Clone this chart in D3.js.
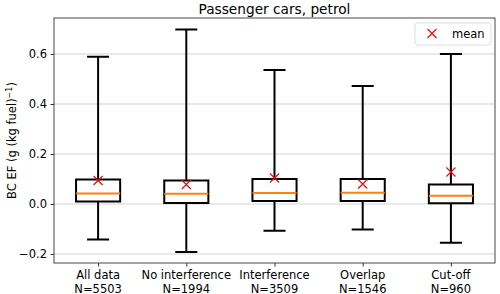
<!DOCTYPE html>
<html>
<head>
<meta charset="utf-8">
<script src="https://cdn.jsdelivr.net/npm/d3@7"></script>
<style>
  body { margin: 0; background: #fff; }
  text { font-family: "DejaVu Sans", sans-serif; fill: #000; }
</style>
</head>
<body>
<svg id="chart" width="500" height="294"></svg>
<script>
// box statistics
const groups = ["All data", "No interference", "Interference", "Overlap", "Cut-off"];
const counts = [5503, 1994, 3509, 1546, 960];
const whiskerLow = [-0.142, -0.192, -0.107, -0.102, -0.155];
const q1 = [0.010, 0.004, 0.012, 0.012, 0.003];
const median = [0.042, 0.041, 0.044, 0.045, 0.033];
const q3 = [0.098, 0.094, 0.100, 0.100, 0.078];
const whiskerHigh = [0.589, 0.698, 0.536, 0.472, 0.600];
const means = [0.094, 0.078, 0.104, 0.080, 0.128];
const yTicks = [-0.2, 0.0, 0.2, 0.4, 0.6];

const margin = {top: 18, right: 5, bottom: 31, left: 54};
const width = 500 - margin.left - margin.right,
      height = 294 - margin.top - margin.bottom;

let svg = d3.select("#chart");
let g = svg.append("g").attr("transform", "translate(" + margin.left + "," + margin.top + ")");

// positions 1..5, xlim 0.5..5.5 like matplotlib
let x = d3.scaleLinear().domain([0.5, 5.5]).range([0, width]);
let y = d3.scaleLinear().domain([-0.236, 0.744]).range([height, 0]);

// grid
g.append("g").selectAll("line").data(yTicks).enter().append("line")
    .attr("x1", 0).attr("x2", width)
    .attr("y1", d => y(d)).attr("y2", d => y(d))
    .attr("stroke", "#d3d3d3").attr("stroke-width", 1);

let data = groups.map((name, i) => ({
    name: name, pos: i + 1, n: counts[i],
    lo: whiskerLow[i], q1: q1[i], med: median[i], q3: q3[i], hi: whiskerHigh[i], mean: means[i]
}));

let boxW = x(1.25) - x(1);   // half of box width (0.5 total)
let capW = x(1.125) - x(1);  // half of cap width

let boxes = g.selectAll(".box").data(data).enter().append("g").attr("class", "box");

// whiskers
boxes.append("line")
    .attr("x1", d => x(d.pos)).attr("x2", d => x(d.pos))
    .attr("y1", d => y(d.q3)).attr("y2", d => y(d.hi))
    .attr("stroke", "#000").attr("stroke-width", 2);
boxes.append("line")
    .attr("x1", d => x(d.pos)).attr("x2", d => x(d.pos))
    .attr("y1", d => y(d.q1)).attr("y2", d => y(d.lo))
    .attr("stroke", "#000").attr("stroke-width", 2);
// caps
boxes.append("line")
    .attr("x1", d => x(d.pos) - capW).attr("x2", d => x(d.pos) + capW)
    .attr("y1", d => y(d.hi)).attr("y2", d => y(d.hi))
    .attr("stroke", "#000").attr("stroke-width", 2);
boxes.append("line")
    .attr("x1", d => x(d.pos) - capW).attr("x2", d => x(d.pos) + capW)
    .attr("y1", d => y(d.lo)).attr("y2", d => y(d.lo))
    .attr("stroke", "#000").attr("stroke-width", 2);
// box
boxes.append("rect")
    .attr("x", d => x(d.pos) - boxW).attr("width", boxW * 2)
    .attr("y", d => y(d.q3)).attr("height", d => y(d.q1) - y(d.q3))
    .attr("fill", "none").attr("stroke", "#000").attr("stroke-width", 2);
// median
boxes.append("line")
    .attr("x1", d => x(d.pos) - boxW).attr("x2", d => x(d.pos) + boxW)
    .attr("y1", d => y(d.med)).attr("y2", d => y(d.med))
    .attr("stroke", "#ff7f0e").attr("stroke-width", 2);

// mean markers
function cross(sel, cx, cy, r) {
    sel.append("path")
        .attr("d", "M" + (cx - r) + "," + (cy - r) + "L" + (cx + r) + "," + (cy + r) +
                   "M" + (cx - r) + "," + (cy + r) + "L" + (cx + r) + "," + (cy - r))
        .attr("stroke", "#ff0000").attr("stroke-width", 1.1).attr("fill", "none");
}
boxes.each(function(d) { cross(d3.select(this), x(d.pos), y(d.mean), 4.5); });

// axes
let yAxis = g.append("g")
    .call(d3.axisLeft(y).tickValues(yTicks).tickSize(3.5).tickPadding(3.5)
        .tickFormat(d => d3.format(".1f")(d).replace("-", "\u2212")));
let xAxis = g.append("g")
    .attr("transform", "translate(0," + height + ")")
    .call(d3.axisBottom(x).tickValues(data.map(d => d.pos)).tickSize(3.5).tickFormat(""));
[yAxis, xAxis].forEach(a => {
    a.select(".domain").remove();
    a.selectAll("line").attr("stroke", "#000").attr("stroke-width", 0.8);
    a.selectAll("text").style("font-size", "11.5px").attr("fill", "#000");
});

// two line x labels
let xl = g.append("g").selectAll("text").data(data).enter().append("text")
    .attr("x", d => x(d.pos)).attr("y", height + 16)
    .attr("text-anchor", "middle").style("font-size", "11.5px");
xl.append("tspan").attr("x", d => x(d.pos)).text(d => d.name);
xl.append("tspan").attr("x", d => x(d.pos)).attr("dy", 13.5).text(d => "N=" + d.n);

// frame
g.append("rect").attr("width", width).attr("height", height)
    .attr("fill", "none").attr("stroke", "#333").attr("stroke-width", 0.9);

// title
svg.append("text").attr("x", margin.left + width / 2).attr("y", 13.5)
    .attr("text-anchor", "middle").style("font-size", "13.7px")
    .text("Passenger cars, petrol");

// y label
let yl = svg.append("text")
    .attr("transform", "translate(16," + (margin.top + height / 2) + ") rotate(-90)")
    .attr("text-anchor", "middle").style("font-size", "11.5px");
yl.append("tspan").text("BC EF (g (kg fuel)");
yl.append("tspan").attr("dy", -4).style("font-size", "8px").text("\u22121");
yl.append("tspan").attr("dy", 4).text(")");

// legend
let lg = svg.append("g").attr("transform", "translate(415,23)");
lg.append("rect").attr("width", 76).attr("height", 22).attr("rx", 2.5)
    .attr("fill", "#fff").attr("fill-opacity", 0.8)
    .attr("stroke", "#d9d9d9").attr("stroke-width", 0.9);
cross(lg, 17, 10.5, 4.5);
lg.append("text").attr("x", 37).attr("y", 15).style("font-size", "11.5px").text("mean");
</script>
</body>
</html>
